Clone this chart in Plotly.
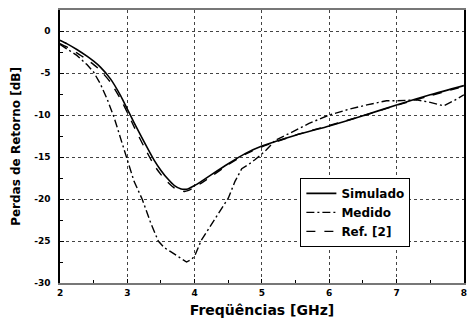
import plotly.graph_objects as go

# Frequencies (GHz) and return loss (dB)
f_sim = [2.0, 2.1, 2.25, 2.4, 2.5, 2.6, 2.75, 2.9, 3.0, 3.1, 3.25, 3.4, 3.5, 3.6, 3.7, 3.8, 3.85, 3.9,
         4.0, 4.1, 4.25, 4.5, 4.75, 5.0, 5.5, 6.0, 6.5, 7.0, 7.5, 8.0]
v_sim = [-1.1, -1.5, -2.2, -3.0, -3.6, -4.3, -5.7, -7.7, -9.3, -10.9, -13.2, -15.4, -16.6, -17.6, -18.4,
         -18.8, -18.85, -18.8, -18.4, -17.9, -17.1, -15.8, -14.6, -13.7, -12.4, -11.3, -10.1, -8.8, -7.6, -6.5]

f_med = [2.0, 2.1, 2.25, 2.4, 2.5, 2.6, 2.7, 2.8, 2.9, 3.0, 3.1, 3.22, 3.35, 3.46, 3.55, 3.65, 3.75,
         3.88, 3.95, 4.0, 4.1, 4.25, 4.4, 4.5, 4.6, 4.7, 4.8, 4.9, 5.06, 5.2, 5.43, 5.7, 6.0, 6.3,
         6.56, 6.85, 7.0, 7.3, 7.5, 7.7, 7.85, 8.0]
v_med = [-1.6, -2.1, -2.9, -4.0, -4.9, -6.3, -8.1, -10.2, -12.7, -15.3, -17.9, -20.0, -22.9, -25.0,
         -25.8, -26.3, -26.8, -27.5, -27.2, -26.8, -24.9, -23.0, -21.0, -19.9, -17.9, -16.4, -15.9,
         -15.3, -14.2, -13.0, -12.1, -11.0, -10.0, -9.3, -8.8, -8.3, -8.3, -8.2, -8.5, -8.9, -8.3, -7.6]

f_ref = [2.0, 2.1, 2.25, 2.4, 2.5, 2.6, 2.75, 2.9, 3.0, 3.1, 3.25, 3.4, 3.5, 3.6, 3.7, 3.8, 3.85, 3.9,
         4.0, 4.1, 4.25, 4.5, 4.75, 5.0, 5.5, 6.0, 6.5, 7.0, 7.5, 8.0]
v_ref = [-1.5, -1.9, -2.6, -3.4, -4.0, -4.7, -6.1, -8.1, -9.7, -11.4, -13.8, -16.0, -17.1, -18.0, -18.7,
         -19.05, -19.1, -19.0, -18.6, -18.1, -17.3, -15.9, -14.7, -13.8, -12.4, -11.25, -10.1, -8.85, -7.7, -6.6]

x_ticks = [2, 3, 4, 5, 6, 7, 8]
y_ticks = [-30, -25, -20, -15, -10, -5, 0]

FONT = "DejaVu Sans"

fig = go.Figure()
fig.add_trace(go.Scatter(x=f_sim, y=v_sim, mode="lines", name="Simulado",
                         line=dict(color="black", width=1.6, shape="spline", smoothing=0.6)))
fig.add_trace(go.Scatter(x=f_med, y=v_med, mode="lines", name="Medido",
                         line=dict(color="black", width=1.4, dash="8px,3px,2px,3px")))
fig.add_trace(go.Scatter(x=f_ref, y=v_ref, mode="lines", name="Ref. [2]",
                         line=dict(color="black", width=1.4, dash="dash", shape="spline", smoothing=0.6)))

fig.update_layout(
    width=468, height=324,
    margin=dict(l=60, r=1, t=10, b=41),
    paper_bgcolor="white", plot_bgcolor="white",
    font=dict(family=FONT, color="black", weight="bold"),
    showlegend=True,
    legend=dict(x=0.595, y=0.385, xanchor="left", yanchor="top",
                bgcolor="white", bordercolor="black", borderwidth=1,
                font=dict(family=FONT, size=12, weight="bold"),
                tracegroupgap=0, itemwidth=30),
    xaxis=dict(range=[2, 8.002], tickvals=x_ticks, ticktext=[str(v) for v in x_ticks],
               ticks="inside", ticklen=4, tickcolor="black", ticklabeloverflow="allow",
               minor=dict(ticks="inside", ticklen=3, dtick=0.5, tick0=2, tickcolor="black", showgrid=False),
               showgrid=True, gridcolor="#444", griddash="dot", gridwidth=1,
               showline=True, linecolor="#777", linewidth=2, mirror=True,
               zeroline=False,
               tickfont=dict(family=FONT, size=9, weight="bold"),
               title=dict(text="Freqüências [GHz]", standoff=8,
                          font=dict(family=FONT, size=14, weight="bold"))),
    yaxis=dict(range=[-30, 2.5], tickvals=y_ticks, ticktext=[str(v) for v in y_ticks],
               ticks="inside", ticklen=4, tickcolor="black",
               minor=dict(ticks="inside", ticklen=3, dtick=2.5, tick0=0, tickcolor="black", showgrid=False),
               showgrid=True, gridcolor="#444", griddash="dot", gridwidth=1,
               showline=True, linecolor="black", linewidth=1.5, mirror=True,
               zeroline=False, ticklabelstandoff=6,
               tickfont=dict(family=FONT, size=9, weight="bold"),
               title=dict(text="Perdas de Retorno [dB]", standoff=11,
                          font=dict(family=FONT, size=12, weight="bold"))),
)

fig.write_html("out.html")
